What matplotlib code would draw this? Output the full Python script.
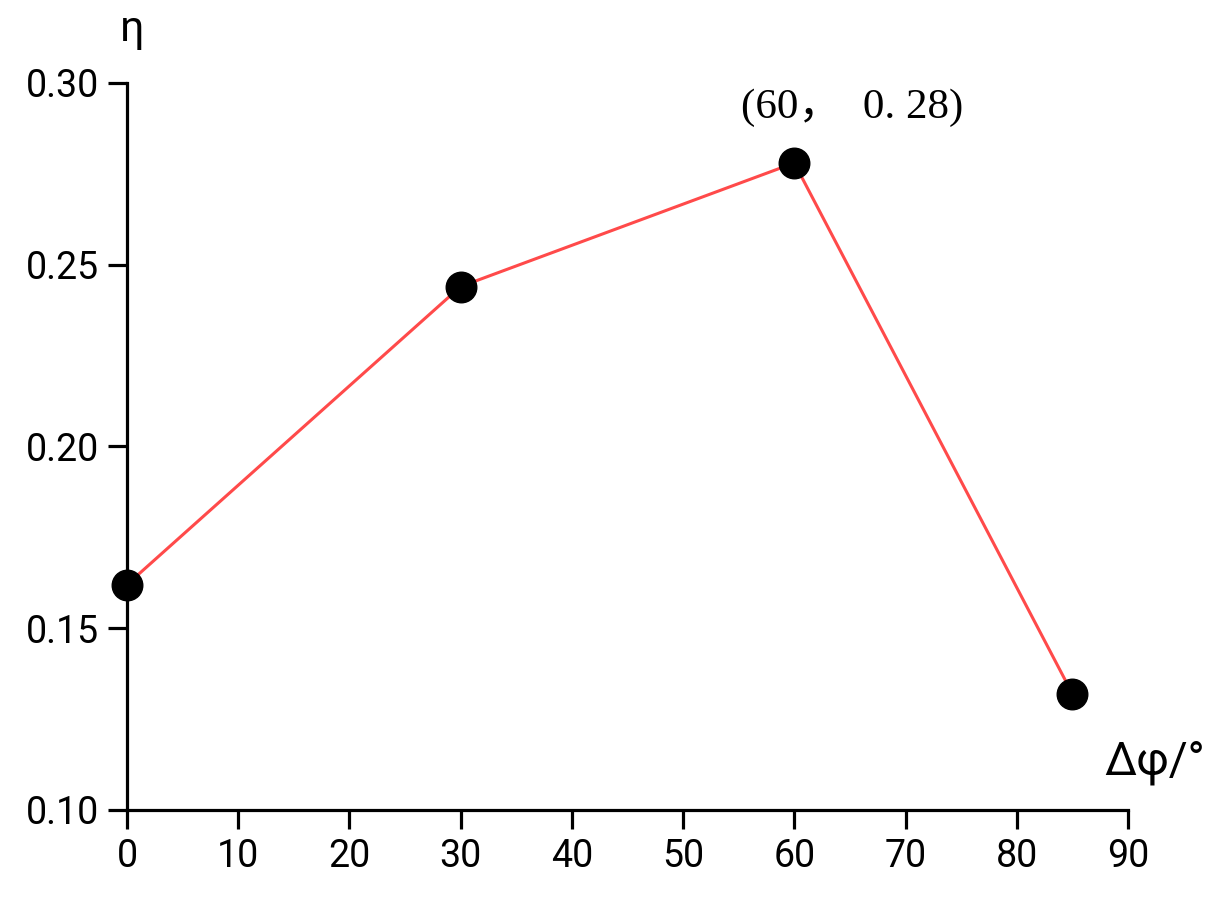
import matplotlib
matplotlib.use("Agg")
import matplotlib.pyplot as plt

# data
dphi = [0, 30, 60, 85]
eta = [0.162, 0.244, 0.278, 0.132]
xticks = [0, 10, 20, 30, 40, 50, 60, 70, 80, 90]
yticks = [0.10, 0.15, 0.20, 0.25, 0.30]
peak_label = "(60，  0. 28)"

plt.rcParams['font.family'] = ['Roboto', 'DejaVu Sans']

fig = plt.figure(figsize=(12.16, 8.98), dpi=100)
ax = fig.add_axes([0.1044, 0.098, 0.8232, 0.8096])

ax.plot(dphi, eta, color='#ff4a4a', lw=2.2, zorder=2, clip_on=False)
ax.plot(dphi, eta, 'o', color='black', ms=22, zorder=3, clip_on=False)

ax.set_xlim(0, 90)
ax.set_ylim(0.10, 0.30)
ax.set_xticks(xticks)
ax.set_yticks(yticks)
ax.set_yticklabels([f"{v:.2f}" for v in yticks])

for s in ['top', 'right']:
    ax.spines[s].set_visible(False)
for s in ['left', 'bottom']:
    ax.spines[s].set_linewidth(2.3)
ax.tick_params(direction='out', length=14, width=2.3, labelsize=27, pad=6)

# axis names sit at the ends of the axes
ax.text(0.005, 1.045, "η", transform=ax.transAxes, fontsize=31, ha='center', va='bottom')
ax.text(1.027, 0.065, "Δφ/°", transform=ax.transAxes, fontsize=33, ha='center', va='center')

ax.annotate(peak_label, (60, 0.278), xytext=(42, 40), textcoords='offset points',
            ha='center', va='center', fontsize=31,
            family=['Liberation Serif', 'Noto Sans CJK SC'])

fig.savefig("out.png", dpi=100)
